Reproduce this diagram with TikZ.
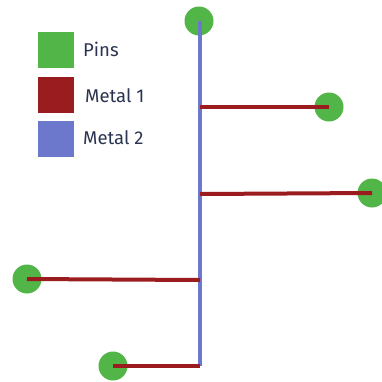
\documentclass[tikz,border=0pt]{standalone}
\usepackage{fontspec}
\setmainfont{Fira Sans}
\definecolor{pingreen}{HTML}{52B548}
\definecolor{metalone}{HTML}{9B1C1F}
\definecolor{metaltwo}{HTML}{6B78CC}
\definecolor{labelink}{HTML}{2A3350}
\begin{document}
\begin{tikzpicture}[x=1pt,y=-1pt,
  pin/.style={circle,fill=pingreen,inner sep=0pt,minimum size=29pt},
  swatch/.style={inner sep=0pt,minimum size=36pt},
  legendtext/.style={anchor=west,inner sep=0pt,text=labelink,font=\fontsize{18.5}{22}\selectfont},
  mone/.style={draw=metalone,line width=4pt},
  mtwo/.style={draw=metaltwo,line width=4pt}]
\useasboundingbox (0,0) rectangle (382,381);
% legend
\node[swatch,fill=pingreen] (sw1) at (56,50) {};
\node[swatch,fill=metalone] (sw2) at (56,95) {};
\node[swatch,fill=metaltwo] (sw3) at (56,139) {};
\node[legendtext] (lb1) at (83,49) {Pins};
\node[legendtext] (lb2) at (85,96) {Metal 1};
\node[legendtext] (lb3) at (83,138) {Metal 2};
% pins
\node[pin] (p1) at (199,21) {};
\node[pin] (p2) at (329,107) {};
\node[pin] (p3) at (372,193) {};
\node[pin] (p4) at (27,279) {};
\node[pin] (p5) at (113,366) {};
% taps on the metal 2 trunk
\coordinate (t2) at (200,107);
\coordinate (t3) at (200,194);
\coordinate (t4) at (200,280);
\coordinate (t5) at (200,366);
% metal 2 trunk
\draw[mtwo] (p1.center) ++(1,0) -- (t5);
% metal 1 branches
\draw[mone] (t2) -- (p2.center);
\draw[mone] (t3) -- (p3.center);
\draw[mone] (t4) -- (p4.center);
\draw[mone] (t5) -- (p5.center);
\end{tikzpicture}
\end{document}
